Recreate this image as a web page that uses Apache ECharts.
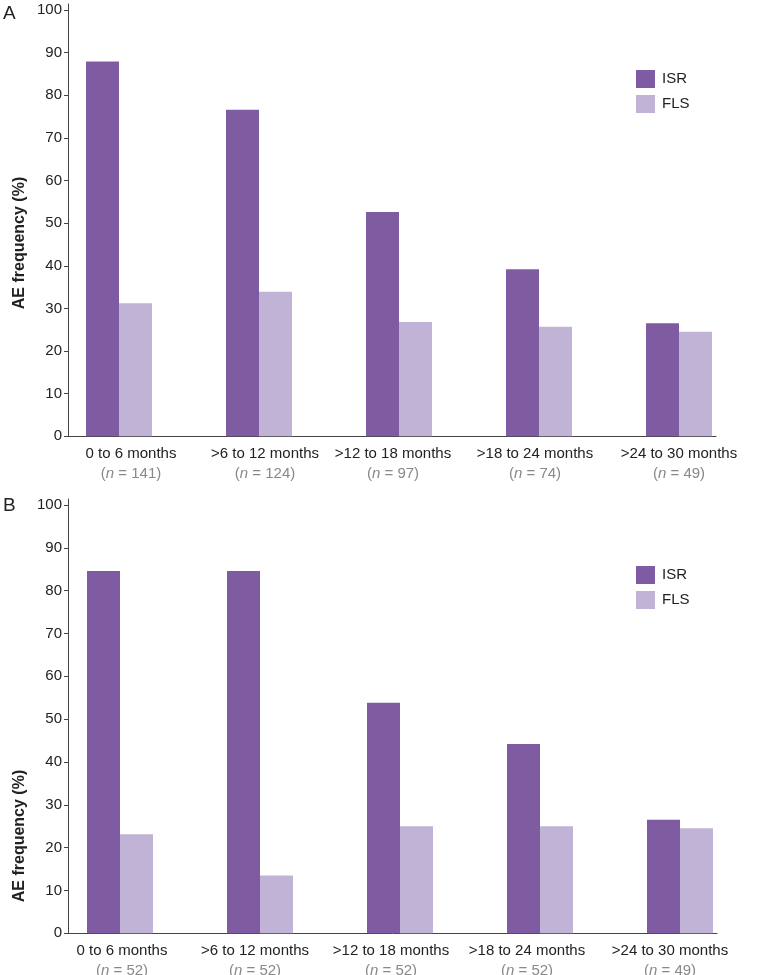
<!DOCTYPE html>
<html>
<head>
<meta charset="utf-8">
<script src="https://cdn.jsdelivr.net/npm/echarts@6/dist/echarts.min.js"></script>
<style>
html,body{margin:0;padding:0;background:#fff;}
#c{width:757px;height:975px;}
</style>
</head>
<body>
<div id="c"></div>
<script>
// ---- data ----
const categories = ['0 to 6 months', '>6 to 12 months', '>12 to 18 months', '>18 to 24 months', '>24 to 30 months'];
const nA = [141, 124, 97, 74, 49];
const nB = [52, 52, 52, 52, 49];
const isrA = [87.9, 76.6, 52.6, 39.2, 26.5];
const flsA = [31.2, 33.9, 26.8, 25.7, 24.5];
const isrB = [84.6, 84.6, 53.8, 44.2, 26.5];
const flsB = [23.1, 13.5, 25.0, 25.0, 24.5];
const yTicks = [0, 10, 20, 30, 40, 50, 60, 70, 80, 90, 100];
const seriesNames = ['ISR', 'FLS'];
const yName = 'AE frequency (%)';
const panelLetters = ['A', 'B'];

// ---- styles / layout ----
const FONT = '"Liberation Sans", Arial, Helvetica, sans-serif';
const C_ISR = '#7f5ca2';
const C_FLS = '#c1b3d6';
const AXIS = '#444';
const TXT = '#222';
const GRAY = '#888';
// horizontal nudges (px) of the category labels, as in the original figure
const shiftA = [12, 6, -6, -4, 0];
const shiftB = [2, -5, -9, -13, -10];

function pad(s) { return s >= 0 ? [0, 0, 0, 2 * s] : [0, -2 * s, 0, 0]; }

function buildRich(shifts) {
  const base = { fontFamily: FONT, fontSize: 15, lineHeight: 20 };
  const rich = { i: Object.assign({}, base, { color: GRAY, fontStyle: 'italic' }) };
  shifts.forEach(function (s, k) {
    rich['t' + k] = Object.assign({}, base, { color: TXT, padding: pad(s) });
    rich['l' + k] = Object.assign({}, base, { color: GRAY, padding: s > 0 ? [0, 0, 0, 2 * s] : 0 });
    rich['r' + k] = Object.assign({}, base, { color: GRAY, padding: s < 0 ? [0, -2 * s, 0, 0] : 0 });
  });
  return rich;
}

function xLabels(ns) {
  return function (value, idx) {
    return '{t' + idx + '|' + value + '}\n{l' + idx + '|(}{i|n}{r' + idx + '| = ' + ns[idx] + ')}';
  };
}

function panel(gi, grid, decor, ns, isr, fls, shifts) {
  const xi = gi * 2, yi = gi * 2;
  return {
    grids: [grid, decor],
    xAxes: [
      {
        type: 'category', gridIndex: xi, data: categories,
        axisLine: { show: false }, axisTick: { show: false },
        axisLabel: { interval: 0, margin: 8, formatter: xLabels(ns), rich: buildRich(shifts) }
      },
      {
        type: 'value', gridIndex: xi + 1, min: 0, max: 1,
        axisLine: { show: true, lineStyle: { color: AXIS, width: 1 } },
        axisTick: { show: false }, axisLabel: { show: false }, splitLine: { show: false }
      }
    ],
    yAxes: [
      {
        type: 'value', gridIndex: yi, min: 0, max: 100, interval: 10, offset: -(decor.left - grid.left),
        axisLine: { show: false },
        axisTick: { show: true, length: 4, lineStyle: { color: AXIS, width: 1 } },
        axisLabel: {
          margin: 6, fontFamily: FONT, fontSize: 15, color: TXT,
          formatter: function (v) { return yTicks.indexOf(v) >= 0 ? String(v) : ''; }
        },
        splitLine: { show: false }
      },
      {
        type: 'value', gridIndex: yi + 1, min: 0, max: decor.ymax,
        axisLine: { show: true, lineStyle: { color: AXIS, width: 1 } },
        axisTick: { show: false }, axisLabel: { show: false }, splitLine: { show: false }
      }
    ],
    series: [
      { name: seriesNames[0], type: 'bar', xAxisIndex: xi, yAxisIndex: yi, data: isr, barWidth: 33, barGap: '0%', itemStyle: { color: C_ISR }, silent: true },
      { name: seriesNames[1], type: 'bar', xAxisIndex: xi, yAxisIndex: yi, data: fls, barWidth: 33, barGap: '0%', itemStyle: { color: C_FLS }, silent: true }
    ]
  };
}

const pA = panel(0,
  { left: 49, right: 8, top: 10, bottom: 538.7 },
  { left: 68, right: 41, top: 4, bottom: 538.7, ymax: 101.4 },
  nA, isrA, flsA, shiftA);
const pB = panel(1,
  { left: 50, right: 7, top: 505, bottom: 41.7 },
  { left: 68, right: 40, top: 499, bottom: 41.7, ymax: 101.4 },
  nB, isrB, flsB, shiftB);

function g(o) {
  return { left: o.left, right: o.right, top: o.top, bottom: o.bottom, containLabel: false, outerBoundsMode: 'none' };
}

function legend(top) {
  return {
    data: seriesNames, orient: 'vertical', left: 636, top: top, padding: 0,
    icon: 'rect', itemWidth: 19, itemHeight: 18, itemGap: 7,
    textStyle: { fontFamily: FONT, fontSize: 15, color: TXT, padding: [0, 0, 0, 2] },
    selectedMode: false
  };
}

function label(text, x, y, size, weight, rot) {
  return {
    type: 'text', x: x, y: y, rotation: rot || 0, silent: true,
    style: { text: text, fontFamily: FONT, fontSize: size, fontWeight: weight, fill: TXT,
             textAlign: rot ? 'center' : 'left', textVerticalAlign: rot ? 'middle' : 'top' }
  };
}

const option = {
  animation: false,
  backgroundColor: '#fff',
  grid: [g(pA.grids[0]), g(pA.grids[1]), g(pB.grids[0]), g(pB.grids[1])],
  xAxis: [].concat(pA.xAxes, pB.xAxes),
  yAxis: [].concat(pA.yAxes, pB.yAxes),
  series: [].concat(pA.series, pB.series),
  legend: [legend(70), legend(566)],
  graphic: [
    label(panelLetters[0], 3, 4, 19, 'normal'),
    label(panelLetters[1], 3, 496, 19, 'normal'),
    label(yName, 20, 243, 16, 'bold', Math.PI / 2),
    label(yName, 20, 836, 16, 'bold', Math.PI / 2)
  ]
};

const chart = echarts.init(document.getElementById('c'), null, { renderer: 'canvas' });
chart.setOption(option);
</script>
</body>
</html>
